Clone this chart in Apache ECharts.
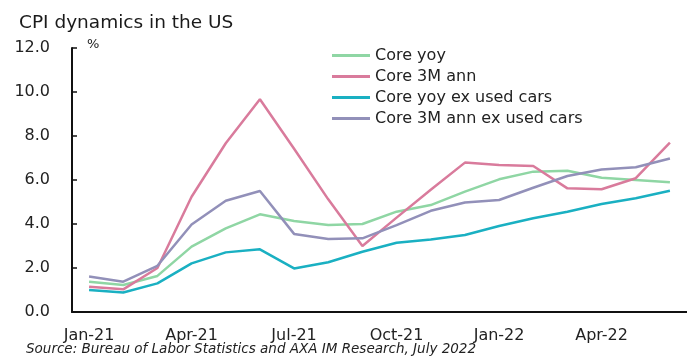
<!DOCTYPE html>
<html>
<head>
<meta charset="utf-8">
<script src="https://cdn.jsdelivr.net/npm/echarts@6/dist/echarts.min.js"></script>
<style>html,body{margin:0;padding:0;background:#fff}#c{width:687px;height:358px}</style>
</head>
<body>
<div id="c"></div>
<script>
var months = ["Jan-21","Feb-21","Mar-21","Apr-21","May-21","Jun-21","Jul-21","Aug-21","Sep-21","Oct-21","Nov-21","Dec-21","Jan-22","Feb-22","Mar-22","Apr-22","May-22","Jun-22"];
var coreYoy = [1.38,1.23,1.64,2.97,3.80,4.44,4.14,3.95,4.00,4.56,4.86,5.47,6.03,6.38,6.42,6.10,6.00,5.90];
var core3mAnn = [1.15,1.03,2.00,5.24,7.67,9.67,7.42,5.12,3.00,4.29,5.56,6.79,6.68,6.64,5.62,5.58,6.08,7.70];
var coreYoyExCars = [1.00,0.89,1.30,2.21,2.71,2.85,1.98,2.26,2.74,3.15,3.30,3.50,3.91,4.26,4.56,4.91,5.17,5.51];
var core3mAnnExCars = [1.61,1.38,2.10,3.98,5.06,5.50,3.55,3.32,3.35,3.95,4.60,4.98,5.09,5.65,6.18,6.48,6.58,6.98];
var yTicks = [0,2,4,6,8,10,12];

var font = "DejaVu Sans";
var chart = echarts.init(document.getElementById('c'), null, {renderer:'canvas'});
function mk(name, data, color){
  return {name:name, type:'line', data:data, symbol:'none', smooth:false,
    lineStyle:{color:color, width:2.5}, itemStyle:{color:color}};
}
chart.setOption({
  animation:false,
  backgroundColor:'#fff',
  title:{text:'CPI dynamics in the US', left:19, top:14, padding:0,
    textStyle:{fontFamily:font, fontSize:18.5, fontWeight:'normal', color:'#1a1a1a'}},
  legend:{orient:'vertical', left:332, top:45, itemWidth:38, itemHeight:3, itemGap:0, padding:0,
    icon:'rect', textStyle:{fontFamily:font, fontSize:16, lineHeight:21, color:'#222'},
    data:['Core yoy','Core 3M ann','Core yoy ex used cars','Core 3M ann ex used cars']},
  grid:{left:72, top:48, bottom:46, right:-10, containLabel:false},
  xAxis:{type:'category', data:months, boundaryGap:true,
    axisLine:{lineStyle:{color:'#111', width:2}},
    axisTick:{inside:true, length:5, interval:0, lineStyle:{color:'#111', width:1.5}},
    axisLabel:{interval:2, margin:16, fontFamily:font, fontSize:16, color:'#222'}},
  yAxis:{type:'value', min:yTicks[0], max:yTicks[yTicks.length-1], interval:2,
    axisLine:{show:true, lineStyle:{color:'#111', width:2}},
    axisTick:{show:true, inside:true, length:5, lineStyle:{color:'#111', width:1.5}},
    splitLine:{show:false},
    axisLabel:{margin:22, fontFamily:font, fontSize:16, color:'#222', formatter:function(v){return v.toFixed(1);}}},
  graphic:[
    {type:'text', left:87, top:38, style:{text:'%', fontFamily:font, fontSize:13, fill:'#222'}},
    {type:'text', left:26, top:342, style:{text:'Source: Bureau of Labor Statistics and AXA IM Research, July 2022', fontFamily:font, fontStyle:'italic', fontSize:13.5, fill:'#222'}}
  ],
  series:[
    mk('Core yoy', coreYoy, '#8fd6a4'),
    mk('Core 3M ann', core3mAnn, '#d97b9c'),
    mk('Core yoy ex used cars', coreYoyExCars, '#1ab0c2'),
    mk('Core 3M ann ex used cars', core3mAnnExCars, '#9290b9')
  ]
});
</script>
</body>
</html>
